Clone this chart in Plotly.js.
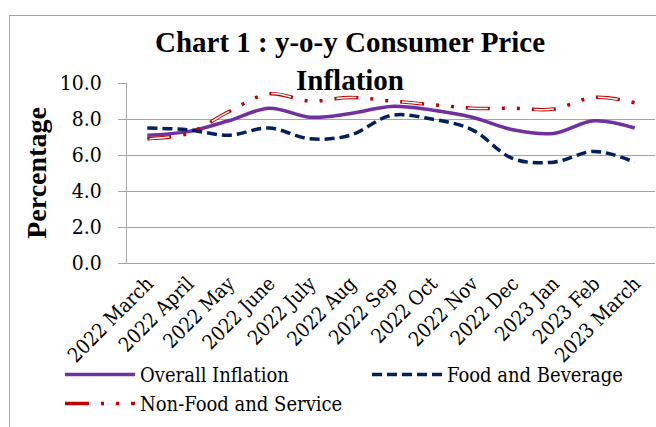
<!DOCTYPE html>
<html>
<head>
<meta charset="utf-8">
<script src="https://cdn.plot.ly/plotly-3.0.1.min.js"></script>
<style>
  html, body { margin: 0; padding: 0; background: #ffffff; }
  #wrap { position: relative; width: 656px; height: 427px; overflow: hidden; background: #ffffff; }
  #frame { position: absolute; left: 9px; top: 15px; width: 700px; height: 500px; border: 1px solid #a6a6a6; box-sizing: border-box; }
  #chart { position: absolute; left: 0; top: 0; width: 656px; height: 427px; }
</style>
</head>
<body>
<div id="wrap">
  <div id="frame"></div>
  <div id="chart"></div>
</div>
<script>
const categories = ['2022 March','2022 April','2022 May','2022 June','2022 July','2022 Aug','2022 Sep','2022 Oct','2022 Nov','2022 Dec','2023 Jan','2023 Feb','2023 March'];
const overallInflation = [7.1, 7.3, 7.9, 8.6, 8.1, 8.3, 8.7, 8.5, 8.1, 7.4, 7.2, 7.9, 7.5];
const foodAndBeverage = [7.5, 7.4, 7.1, 7.5, 6.9, 7.1, 8.2, 8.0, 7.4, 5.8, 5.6, 6.2, 5.6];
const nonFoodAndService = [6.9, 7.2, 8.4, 9.4, 9.0, 9.2, 9.0, 8.8, 8.6, 8.6, 8.55, 9.2, 8.9];
const yTickValues = [0, 2, 4, 6, 8, 10];
const yTickLabels = ['0.0', '2.0', '4.0', '6.0', '8.0', '10.0'];

const boldSerif = 'Liberation Serif';
const textSerif = 'DejaVu Serif Condensed';

const traces = [
  {
    x: categories, y: overallInflation, name: 'Overall Inflation', type: 'scatter', mode: 'lines',
    line: { color: '#7030A0', width: 3.5, shape: 'spline', smoothing: 1 }
  },
  {
    x: categories, y: foodAndBeverage, name: 'Food and Beverage', type: 'scatter', mode: 'lines',
    line: { color: '#002060', width: 3.5, dash: '10px,5px', shape: 'spline', smoothing: 1 }
  },
  {
    x: categories, y: nonFoodAndService, name: 'Non-Food and Service', type: 'scatter', mode: 'lines',
    line: { color: '#C00000', width: 3.5, dash: '24px,12px,3px,12px,3px,12px', shape: 'spline', smoothing: 1 }
  },
  {
    x: categories, y: nonFoodAndService, name: 'Non-Food and Service inner', type: 'scatter', mode: 'lines',
    showlegend: false, hoverinfo: 'skip',
    line: { color: '#ffffff', width: 1.5, dash: '0px,2px,20px,44px', shape: 'spline', smoothing: 1 }
  }
];

const layout = {
  width: 656, height: 427,
  paper_bgcolor: 'rgba(0,0,0,0)',
  plot_bgcolor: 'rgba(0,0,0,0)',
  margin: { l: 127, r: 1, t: 83, b: 164, pad: 0, autoexpand: false },
  font: { family: textSerif, color: '#000000', size: 20 },
  title: {
    text: '<b>Chart 1 : y-o-y Consumer Price<br>Inflation</b>',
    font: { family: boldSerif, size: 29, color: '#000000' },
    x: 350 / 656, xanchor: 'center', xref: 'container',
    y: 1 - 52 / 427, yanchor: 'top', yref: 'container'
  },
  xaxis: {
    type: 'category',
    range: [-0.5, 12.5],
    tickangle: -45,
    automargin: false,
    tickfont: { family: textSerif, size: 20, color: '#000000' },
    showline: true, linecolor: '#a6a6a6', linewidth: 1,
    showgrid: false, zeroline: false,
    ticks: '', fixedrange: true
  },
  yaxis: {
    range: [0, 10],
    automargin: false,
    tickvals: yTickValues, ticktext: yTickLabels,
    tickfont: { family: textSerif, size: 21, color: '#000000' },
    ticks: 'outside', ticklen: 8, tickcolor: '#a6a6a6', tickwidth: 1,
    ticklabelstandoff: 12,
    showline: true, linecolor: '#a6a6a6', linewidth: 1,
    showgrid: true, gridcolor: '#a6a6a6', gridwidth: 1,
    zeroline: false,
    title: { text: '<b>Percentage</b>', font: { family: boldSerif, size: 28, color: '#000000' }, standoff: 4 }
  },
  showlegend: true,
  legend: {
    orientation: 'h',
    x: (60 - 127) / 528, xanchor: 'left',
    y: (263 - 355) / 180, yanchor: 'top',
    font: { family: textSerif, size: 20, color: '#000000' },
    entrywidth: 222, entrywidthmode: 'pixels',
    itemwidth: 70,
    bgcolor: 'rgba(0,0,0,0)', borderwidth: 0,
    traceorder: 'normal'
  }
};

Plotly.newPlot('chart', traces, layout, { staticPlot: true, displayModeBar: false });
</script>
</body>
</html>
